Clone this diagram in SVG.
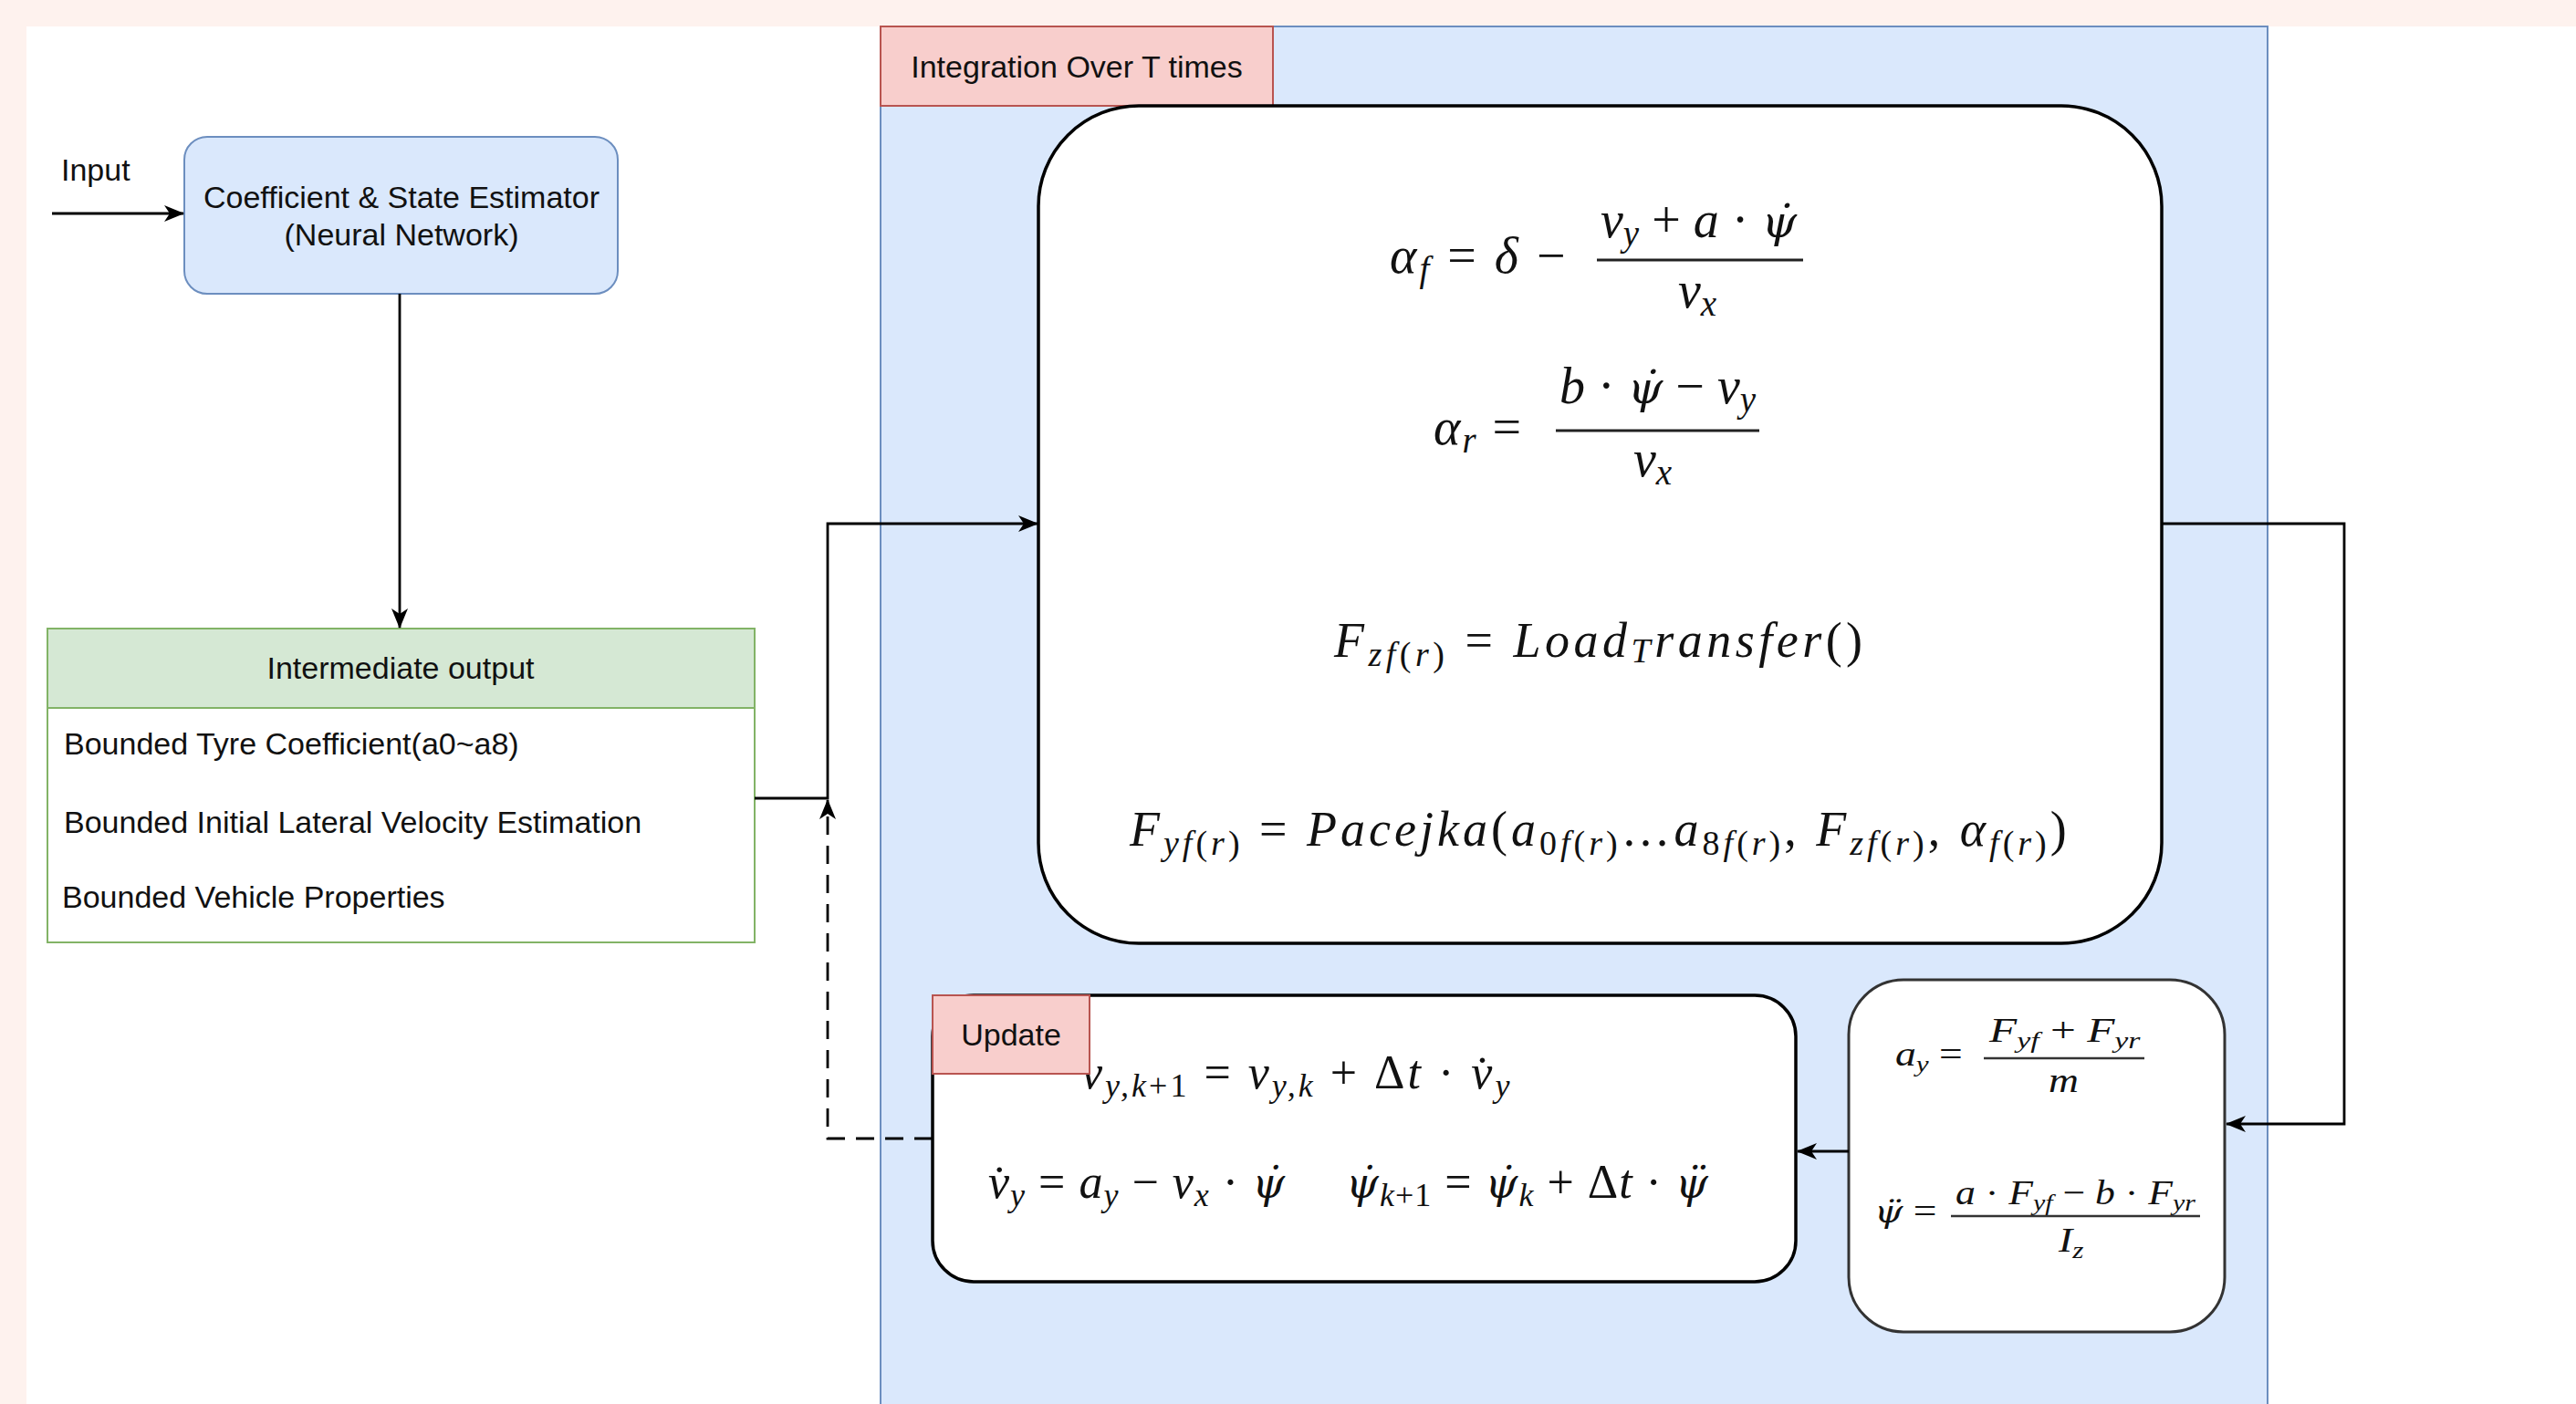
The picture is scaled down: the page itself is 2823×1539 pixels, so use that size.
<svg xmlns="http://www.w3.org/2000/svg" width="2823" height="1539" viewBox="0 0 2823 1539">
<defs>
<style>
.t{font-family:"Liberation Sans",Arial,sans-serif;font-size:34px;fill:#111}
.m{font-family:"Liberation Serif","Times New Roman",serif;font-style:italic;fill:#111}
.u{font-style:normal}
.p{font-family:"DejaVu Serif",serif;font-style:italic;font-size:88%}
.ln{fill:none;stroke:#000;stroke-width:2.8}
.bar{stroke:#222;stroke-width:3}
.bar2{stroke:#333;stroke-width:2.5}
.red{fill:#f8cecc;stroke:#b85450;stroke-width:2}
</style>
<marker id="arr" viewBox="0 0 22 18" refX="21" refY="9" markerWidth="22" markerHeight="18" markerUnits="userSpaceOnUse" orient="auto">
<path d="M0,0 L22,9 L0,18 L6,9 Z" fill="#000"/>
</marker>
</defs>
<rect x="0" y="0" width="2823" height="1539" fill="#fef2ee"/>
<rect x="29" y="29" width="2794" height="1510" fill="#ffffff"/>

<g id="container">
<rect x="965" y="29" width="1520" height="1530" fill="#dae8fc" stroke="#6c8ebf" stroke-width="2"/>
<rect class="red" x="965" y="29" width="430" height="87"/>
<text class="t" x="1180" y="85" text-anchor="middle">Integration Over T times</text>
</g>

<g id="input-label">
<text class="t" x="67" y="198">Input</text>
</g>

<g id="estimator">
<rect x="202" y="150" width="475" height="172" rx="25" fill="#dae8fc" stroke="#6c8ebf" stroke-width="2"/>
<text class="t" x="440" y="228" text-anchor="middle">Coefficient &amp; State Estimator</text>
<text class="t" x="440" y="269" text-anchor="middle">(Neural Network)</text>
</g>

<g id="intermediate">
<rect x="52" y="689" width="775" height="344" fill="#ffffff" stroke="#82b366" stroke-width="2"/>
<rect x="52" y="689" width="775" height="87" fill="#d5e8d4" stroke="#82b366" stroke-width="2"/>
<text class="t" x="439" y="744" text-anchor="middle">Intermediate output</text>
<text class="t" x="70" y="827">Bounded Tyre Coefficient(a0~a8)</text>
<text class="t" x="70" y="913">Bounded Initial Lateral Velocity Estimation</text>
<text class="t" x="68" y="995">Bounded Vehicle Properties</text>
</g>

<g id="slip-forces">
<rect x="1138" y="116" width="1231" height="918" rx="110" fill="#ffffff" stroke="#000" stroke-width="3.5"/>
<text class="m" x="1523" y="299" font-size="56" letter-spacing="3">α<tspan font-size="39" dy="9">f</tspan><tspan dy="-9" class="u"> = </tspan>δ<tspan class="u"> −</tspan></text>
<text class="m" x="1754" y="260" font-size="56">v<tspan font-size="39" dy="9">y</tspan><tspan dy="-9" class="u"> + </tspan>a<tspan class="u"> · </tspan><tspan class="p">ψ̇</tspan></text>
<line class="bar" x1="1750" y1="285" x2="1976" y2="285"/>
<text class="m" x="1839" y="337" font-size="56">v<tspan font-size="39" dy="9">x</tspan></text>

<text class="m" x="1571" y="487" font-size="56" letter-spacing="2">α<tspan font-size="39" dy="9">r</tspan><tspan dy="-9" class="u"> =</tspan></text>
<text class="m" x="1709" y="442" font-size="56">b<tspan class="u"> · </tspan><tspan class="p">ψ̇</tspan><tspan class="u"> − </tspan>v<tspan font-size="39" dy="9">y</tspan></text>
<line class="bar" x1="1705" y1="472" x2="1928" y2="472"/>
<text class="m" x="1790" y="522" font-size="56">v<tspan font-size="39" dy="9">x</tspan></text>

<text class="m" x="1462" y="720" font-size="54" letter-spacing="4.5">F<tspan font-size="38" dy="10">zf<tspan class="u">(</tspan>r<tspan class="u">)</tspan></tspan><tspan dy="-10" class="u"> = </tspan>Load<tspan font-size="38" dy="6">T</tspan><tspan dy="-6">ransfer</tspan><tspan class="u">()</tspan></text>

<text class="m" x="1238" y="927" font-size="54" letter-spacing="4">F<tspan font-size="38" dy="10">yf<tspan class="u">(</tspan>r<tspan class="u">)</tspan></tspan><tspan dy="-10" class="u"> = </tspan>Pacejka<tspan class="u">(</tspan>a<tspan font-size="38" dy="10"><tspan class="u">0</tspan>f<tspan class="u">(</tspan>r<tspan class="u">)</tspan></tspan><tspan dy="-10" class="u">…</tspan>a<tspan font-size="38" dy="10"><tspan class="u">8</tspan>f<tspan class="u">(</tspan>r<tspan class="u">)</tspan></tspan><tspan dy="-10" class="u">, </tspan>F<tspan font-size="38" dy="10">zf<tspan class="u">(</tspan>r<tspan class="u">)</tspan></tspan><tspan dy="-10" class="u">, </tspan>α<tspan font-size="38" dy="10">f<tspan class="u">(</tspan>r<tspan class="u">)</tspan></tspan><tspan dy="-10" class="u">)</tspan></text>
</g>

<g id="update">
<rect x="1022" y="1091" width="946" height="314" rx="45" fill="#ffffff" stroke="#000" stroke-width="3.5"/>
<text class="m" x="1185" y="1193" font-size="52" letter-spacing="3">v<tspan font-size="36" dy="9">y,k<tspan class="u">+1</tspan></tspan><tspan dy="-9" class="u"> = </tspan>v<tspan font-size="36" dy="9">y,k</tspan><tspan dy="-9" class="u"> + Δ</tspan>t<tspan class="u"> · </tspan>v̇<tspan font-size="36" dy="9">y</tspan></text>
<text class="m" x="1083" y="1313" font-size="52" letter-spacing="1">v̇<tspan font-size="36" dy="9">y</tspan><tspan dy="-9" class="u"> = </tspan>a<tspan font-size="36" dy="9">y</tspan><tspan dy="-9" class="u"> − </tspan>v<tspan font-size="36" dy="9">x</tspan><tspan dy="-9" class="u"> · </tspan><tspan class="p">ψ̇</tspan></text>
<text class="m" x="1475" y="1313" font-size="52" letter-spacing="1"><tspan class="p">ψ̇</tspan><tspan font-size="36" dy="9">k<tspan class="u">+1</tspan></tspan><tspan dy="-9" class="u"> = </tspan><tspan class="p">ψ̇</tspan><tspan font-size="36" dy="9">k</tspan><tspan dy="-9" class="u"> + Δ</tspan>t<tspan class="u"> · </tspan><tspan class="p">ψ̈</tspan></text>
<rect class="red" x="1022" y="1091" width="172" height="86"/>
<text class="t" x="1108" y="1146" text-anchor="middle">Update</text>
</g>

<g id="dynamics">
<rect x="2026" y="1074" width="412" height="386" rx="60" fill="#ffffff" stroke="#333" stroke-width="3"/>
<text class="m" font-size="38" transform="translate(2077,1168) scale(1.2,1)">a<tspan font-size="26" dy="7">y</tspan><tspan dy="-7" class="u"> =</tspan></text>
<text class="m" font-size="38" transform="translate(2180,1142) scale(1.3,1)">F<tspan font-size="26" dy="7">yf</tspan><tspan dy="-7" class="u"> + </tspan>F<tspan font-size="26" dy="7">yr</tspan></text>
<line class="bar2" x1="2174" y1="1160" x2="2350" y2="1160"/>
<text class="m" font-size="38" transform="translate(2245,1197) scale(1.2,1)">m</text>
<text class="m" font-size="38" transform="translate(2054,1340) scale(1.2,1)"><tspan class="p">ψ̈</tspan><tspan class="u"> =</tspan></text>
<text class="m" font-size="38" transform="translate(2143,1320) scale(1.15,1)">a<tspan class="u"> · </tspan>F<tspan font-size="26" dy="7">yf</tspan><tspan dy="-7" class="u"> − </tspan>b<tspan class="u"> · </tspan>F<tspan font-size="26" dy="7">yr</tspan></text>
<line class="bar2" x1="2138" y1="1333" x2="2411" y2="1333"/>
<text class="m" font-size="38" transform="translate(2256,1372) scale(1.2,1)">I<tspan font-size="26" dy="7">z</tspan></text>
</g>

<g id="connectors">
<path class="ln" d="M57,234 H201" marker-end="url(#arr)"/>
<path class="ln" d="M438,322 V688" marker-end="url(#arr)"/>
<path class="ln" d="M827,875 H907 V574 H1137" marker-end="url(#arr)"/>
<path class="ln" d="M1022,1248 H907 V877" stroke-dasharray="20 12" marker-end="url(#arr)"/>
<path class="ln" d="M2369,574 H2569 V1232 H2440" marker-end="url(#arr)"/>
<path class="ln" d="M2026,1262 H1970" marker-end="url(#arr)"/>
</g>
</svg>
